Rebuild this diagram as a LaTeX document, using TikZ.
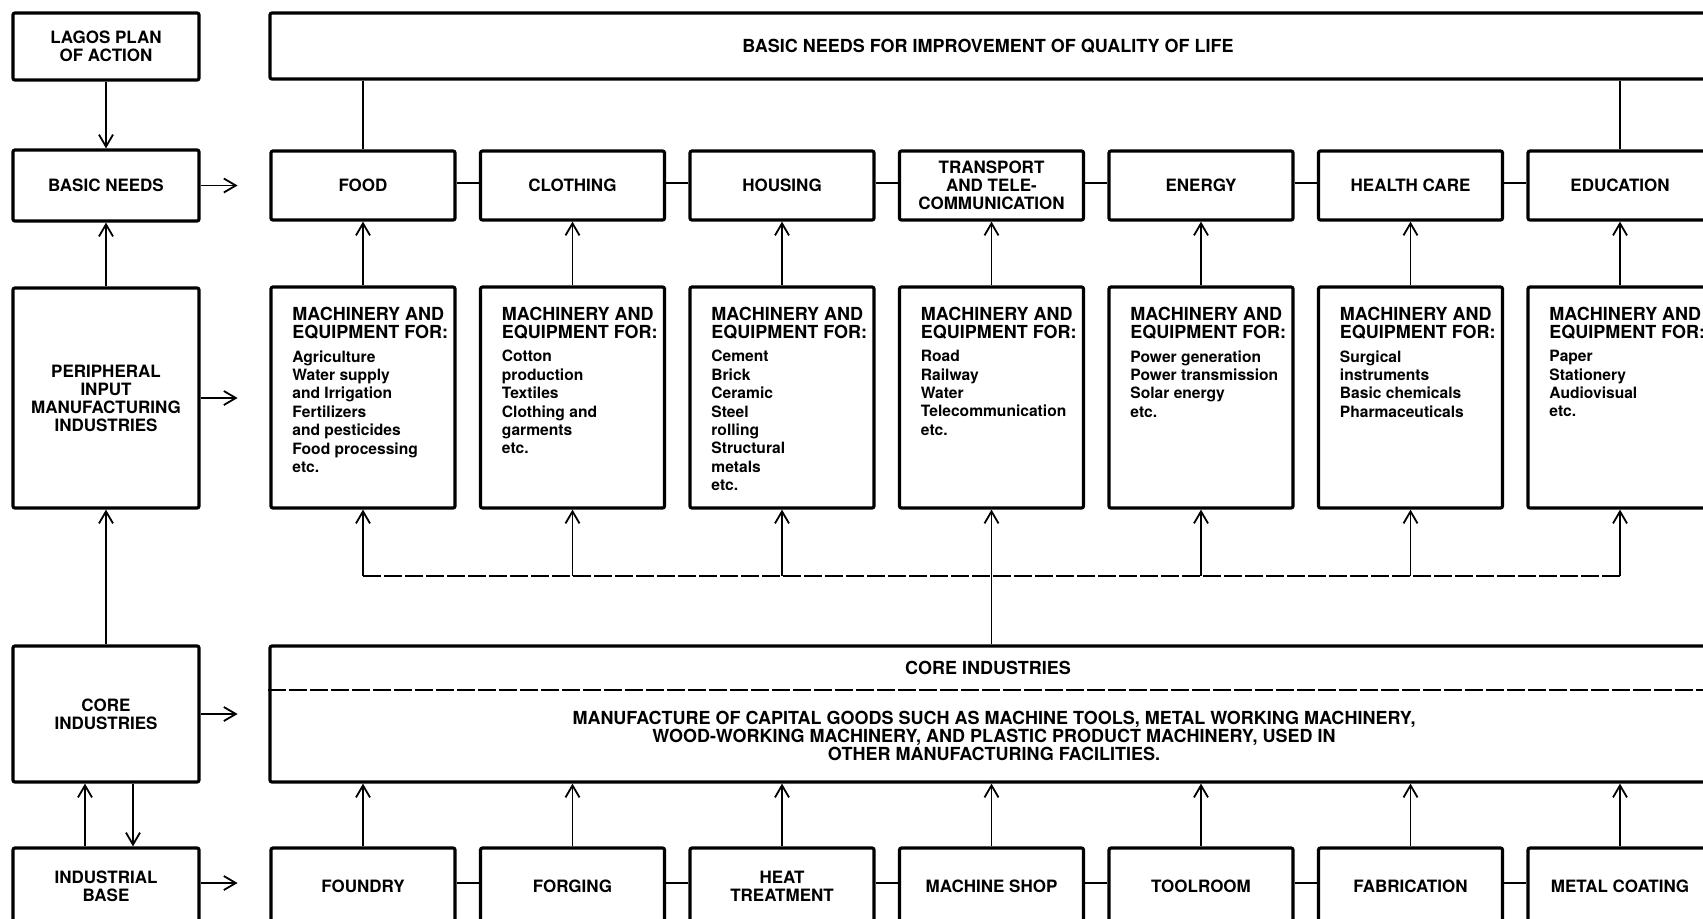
\documentclass[tikz,border=0pt]{standalone}
\usepackage{fontspec}
\setmainfont{TeX Gyre Heros}
\usetikzlibrary{arrows.meta}
\begin{document}
\begin{tikzpicture}[x=0.5pt,y=-0.5pt,
  box/.style={draw, line width=1.6pt, rounded corners=1pt, inner sep=0pt, align=center, font=\bfseries\fontsize{8.5}{9}\selectfont},
  lbox/.style={box, minimum width=93pt},
  rbox/.style={box, minimum width=92pt},
  conn/.style={line width=0.9pt},
  arr/.style={conn, -{Straight Barb[length=6pt,width=7pt]}},
  fbline/.style={line width=0.8pt, dash pattern=on 9pt off 1.5pt},
  headtxt/.style={inner sep=0pt, anchor=north west, align=left, font=\bfseries\fontsize{9}{9}\selectfont},
  listtxt/.style={inner sep=0pt, anchor=north west, align=left, font=\bfseries\fontsize{7.8}{9.2}\selectfont},
  plain/.style={inner sep=0pt, align=center, font=\bfseries\fontsize{9}{9.2}\selectfont},
]
\useasboundingbox (0,0) rectangle (1703,918);
\fill[white] (0,0) rectangle (1703,918);
\clip (0,0) rectangle (1703,918);

% ---- left column ----
\node[lbox, minimum height=33.5pt] (lagos) at (106,46.5) {LAGOS PLAN\\OF ACTION};
\node[lbox, minimum height=35.5pt] (basic) at (106,185.5) {BASIC NEEDS};
\node[lbox, minimum height=110pt] (periph) at (106,398) {PERIPHERAL\\INPUT\\MANUFACTURING\\INDUSTRIES};
\node[lbox, minimum height=68pt] (coreL) at (106,714) {CORE\\INDUSTRIES};
\node[lbox, minimum height=38pt] (indL) at (106,886) {INDUSTRIAL\\BASE};

% ---- top box ----
\node[box, minimum width=718pt, minimum height=33pt, font=\bfseries\fontsize{9}{9}\selectfont] (top) at (988,46) {BASIC NEEDS FOR IMPROVEMENT OF QUALITY OF LIFE};

% ---- basic needs row ----
\node[rbox, minimum height=34.5pt] (r0) at (363,185.5) {FOOD};
\node[rbox, minimum height=34.5pt] (r1) at (572.5,185.5) {CLOTHING};
\node[rbox, minimum height=34.5pt] (r2) at (782,185.5) {HOUSING};
\node[rbox, minimum height=34.5pt] (r3) at (991.5,185.5) {TRANSPORT\\AND TELE-\\COMMUNICATION};
\node[rbox, minimum height=34.5pt] (r4) at (1201,185.5) {ENERGY};
\node[rbox, minimum height=34.5pt] (r5) at (1410.5,185.5) {HEALTH CARE};
\node[rbox, minimum height=34.5pt] (r6) at (1620,185.5) {EDUCATION};

% ---- machinery row ----
\foreach \i/\c in {0/363,1/572.5,2/782,3/991.5,4/1201,5/1410.5,6/1620}{
  \node[rbox, minimum height=110.5pt] (m\i) at (\c,397.5) {};
  \node[headtxt] (h\i) at (\c-71,307) {MACHINERY AND\\EQUIPMENT FOR:};
}
\node[listtxt] (l0) at (292,350) {Agriculture\\Water supply\\and Irrigation\\Fertilizers\\and pesticides\\Food processing\\etc.};
\node[listtxt] (l1) at (501.5,350) {Cotton\\production\\Textiles\\Clothing and\\garments\\etc.};
\node[listtxt] (l2) at (711,350) {Cement\\Brick\\Ceramic\\Steel\\rolling\\Structural\\metals\\etc.};
\node[listtxt] (l3) at (920.5,350) {Road\\Railway\\Water\\Telecommunication\\etc.};
\node[listtxt] (l4) at (1130,350) {Power generation\\Power transmission\\Solar energy\\etc.};
\node[listtxt] (l5) at (1339.5,350) {Surgical\\instruments\\Basic chemicals\\Pharmaceuticals};
\node[listtxt] (l6) at (1549,350) {Paper\\Stationery\\Audiovisual\\etc.};

% ---- core box ----
\node[box, minimum width=718pt, minimum height=68pt] (core) at (988,714) {};
\node[plain] (coret) at (988,668) {CORE INDUSTRIES};
\node[plain] (manuf) at (994,736) {MANUFACTURE OF CAPITAL GOODS SUCH AS MACHINE TOOLS, METAL WORKING MACHINERY,\\WOOD-WORKING MACHINERY, AND PLASTIC PRODUCT MACHINERY, USED IN\\OTHER MANUFACTURING FACILITIES.};
\draw[fbline] (core.west |- 0,690) -- (core.east |- 0,690);

% ---- industrial base row ----
\node[rbox, minimum height=38pt] (b0) at (363,886) {FOUNDRY};
\node[rbox, minimum height=38pt] (b1) at (572.5,886) {FORGING};
\node[rbox, minimum height=38pt] (b2) at (782,886) {HEAT\\TREATMENT};
\node[rbox, minimum height=38pt] (b3) at (991.5,886) {MACHINE SHOP};
\node[rbox, minimum height=38pt] (b4) at (1201,886) {TOOLROOM};
\node[rbox, minimum height=38pt] (b5) at (1410.5,886) {FABRICATION};
\node[rbox, minimum height=38pt] (b6) at (1620,886) {METAL COATING};

% ---- left column connectors ----
\draw[arr] (lagos.south) -- (basic.north);
\draw[arr] (periph.north) -- (basic.south);
\draw[arr] (coreL.north) -- (periph.south);
\draw[arr] ([xshift=-10.5pt]indL.north) -- ([xshift=-10.5pt]coreL.south);
\draw[arr] ([xshift=13.5pt]coreL.south) -- ([xshift=13.5pt]indL.north);
\draw[arr] (basic.east) -- ++(37,0);
\draw[arr] (periph.east) -- ++(37,0);
\draw[arr] (coreL.east) -- ++(37,0);
\draw[arr] ([yshift=1.5pt]indL.east) -- ++(37,0);

% ---- top box to row ----
\draw[conn] (top.south -| r0.north) -- (r0.north);
\draw[conn] (top.south -| r6.north) -- (r6.north);

% ---- row connectors ----
\foreach \a/\b in {0/1,1/2,2/3,3/4,4/5,5/6}{
  \draw[conn] ([yshift=1.25pt]r\a.east) -- ([yshift=1.25pt]r\b.west);
  \draw[conn] ([yshift=1.5pt]b\a.east) -- ([yshift=1.5pt]b\b.west);
  \draw[arr] (m\a.north) -- (r\a.south);
}
\draw[arr] (m6.north) -- (r6.south);

% ---- feedback dashed line ----
\foreach \i/\c in {0/363,1/572.5,2/782,3/991.5,4/1201,5/1410.5,6/1620}{
  \coordinate (fb\i) at (\c,576);
}
\draw[fbline] (fb0) -- (fb6);
\foreach \i in {0,1,2,4,5,6}{
  \draw[arr] (fb\i) -- (m\i.south);
}
\draw[arr] (core.north -| m3.south) -- (m3.south);

% ---- bottom row to core ----
\foreach \i in {0,...,6}{
  \draw[arr] (b\i.north) -- (core.south -| b\i.north);
}
\end{tikzpicture}
\end{document}
